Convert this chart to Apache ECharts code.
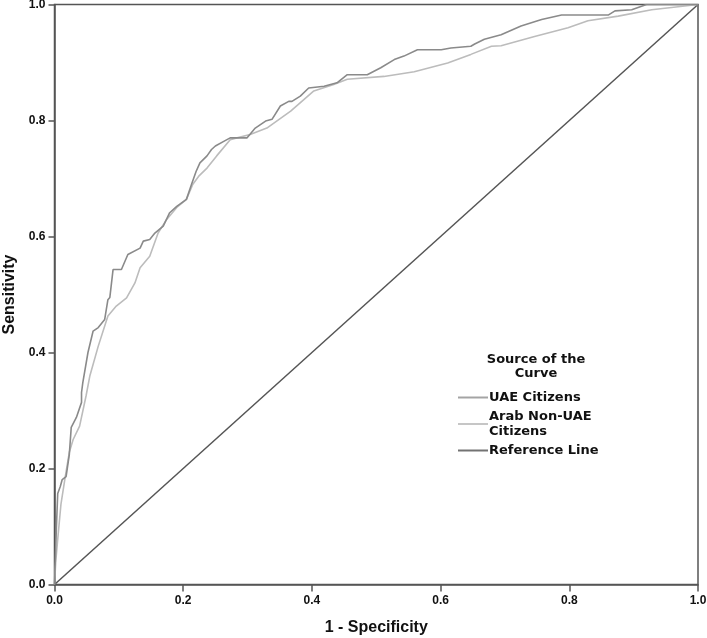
<!DOCTYPE html>
<html>
<head>
<meta charset="utf-8">
<script src="https://cdn.jsdelivr.net/npm/echarts@6/dist/echarts.min.js"></script>
<style>html,body{margin:0;padding:0;background:#fff}#c{width:707px;height:638px}</style>
</head>
<body>
<div id="c"></div>
<script>
var tickLabels = ['0.0','0.2','0.4','0.6','0.8','1.0'];
var seriesNames = ['UAE Citizens', 'Arab Non-UAE\nCitizens', 'Reference Line'];
var uaeCitizens = [[0,0],[0.003,0.10],[0.005,0.157],[0.009,0.169],[0.012,0.181],[0.018,0.186],[0.023,0.224],[0.026,0.271],[0.034,0.288],[0.042,0.314],[0.042,0.331],[0.044,0.348],[0.052,0.40],[0.060,0.437],[0.068,0.443],[0.078,0.457],[0.083,0.491],[0.086,0.495],[0.091,0.543],[0.104,0.543],[0.114,0.569],[0.133,0.580],[0.138,0.592],[0.148,0.595],[0.156,0.606],[0.169,0.618],[0.179,0.641],[0.190,0.652],[0.205,0.664],[0.213,0.69],[0.220,0.712],[0.226,0.727],[0.237,0.739],[0.244,0.75],[0.250,0.756],[0.263,0.764],[0.273,0.770],[0.299,0.770],[0.312,0.787],[0.328,0.799],[0.338,0.802],[0.351,0.825],[0.364,0.833],[0.369,0.833],[0.382,0.842],[0.395,0.856],[0.419,0.859],[0.439,0.865],[0.455,0.879],[0.486,0.879],[0.507,0.891],[0.528,0.905],[0.543,0.911],[0.564,0.922],[0.601,0.922],[0.616,0.925],[0.647,0.928],[0.653,0.932],[0.668,0.940],[0.694,0.948],[0.725,0.963],[0.757,0.974],[0.788,0.982],[0.861,0.982],[0.871,0.989],[0.897,0.991],[0.92,1.0],[1,1]];
var arabNonUae = [[0,0],[0.002,0.04],[0.005,0.078],[0.010,0.138],[0.016,0.181],[0.023,0.228],[0.029,0.25],[0.039,0.273],[0.049,0.325],[0.055,0.36],[0.068,0.411],[0.083,0.463],[0.096,0.480],[0.112,0.494],[0.125,0.520],[0.133,0.546],[0.148,0.566],[0.161,0.606],[0.174,0.629],[0.190,0.65],[0.205,0.664],[0.215,0.69],[0.225,0.705],[0.237,0.718],[0.252,0.739],[0.273,0.767],[0.304,0.776],[0.330,0.787],[0.367,0.816],[0.403,0.851],[0.434,0.862],[0.455,0.871],[0.512,0.876],[0.559,0.884],[0.611,0.899],[0.647,0.914],[0.679,0.928],[0.694,0.929],[0.746,0.945],[0.798,0.96],[0.829,0.972],[0.876,0.980],[0.928,0.991],[1,1]];
var referenceLine = [[0,0],[1,1]];

var FONT = '"Liberation Sans", Arial, sans-serif';
var LFONT = '"DejaVu Sans", sans-serif';
var axisColor = '#555';
var chart = echarts.init(document.getElementById('c'));
function axisCommon(name, gap, rot, tickLen, margin) {
  return {
    type: 'value', min: 0, max: 1, interval: 0.2,
    name: name, nameLocation: 'middle', nameGap: gap, nameRotate: rot,
    nameTextStyle: {fontFamily: FONT, fontWeight: 'bold', fontSize: 16, color: '#111'},
    axisLine: {show: true, onZero: false, lineStyle: {color: axisColor, width: 1.5}},
    axisTick: {show: true, length: tickLen, lineStyle: {color: axisColor, width: 1.5}},
    axisLabel: {fontFamily: FONT, fontWeight: 'bold', fontSize: 12, color: '#111', margin: margin,
      formatter: function (v) { return tickLabels[Math.round(v / 0.2)]; }},
    splitLine: {show: false}
  };
}
chart.setOption({
  animation: false,
  backgroundColor: '#fff',
  title: {
    text: 'Source of the\nCurve', left: 531, top: 348, textAlign: 'center',
    textStyle: {fontFamily: LFONT, fontWeight: 'bold', fontSize: 13, lineHeight: 14, color: '#111', align: 'center'}
  },
  legend: {
    orient: 'vertical', left: 453, top: 385, itemWidth: 30, itemHeight: 2, itemGap: 4,
    icon: 'rect',
    textStyle: {fontFamily: LFONT, fontWeight: 'bold', fontSize: 13, lineHeight: 15, color: '#111', padding: [0,0,0,-4]},
    data: seriesNames
  },
  grid: {left: 54.5, top: 4.5, right: 9, bottom: 53.5, show: true, borderColor: axisColor, borderWidth: 1.5,
    containLabel: false, outerBoundsMode: 'none'},
  xAxis: axisCommon('1 - Specificity', 35, 0, 7, 10),
  yAxis: axisCommon('Sensitivity', 34, 90, 6, 9),
  series: [
    {name: seriesNames[0], type: 'line', data: uaeCitizens, showSymbol: false, symbol: 'none',
      lineStyle: {color: '#8a8a8a', width: 1.6}, itemStyle: {color: '#a4a4a4'}, z: 3},
    {name: seriesNames[1], type: 'line', data: arabNonUae, showSymbol: false, symbol: 'none',
      lineStyle: {color: '#bcbcbc', width: 1.6}, itemStyle: {color: '#c6c6c6'}, z: 2},
    {name: seriesNames[2], type: 'line', data: referenceLine, showSymbol: false, symbol: 'none',
      lineStyle: {color: '#555', width: 1.5}, itemStyle: {color: '#737373'}, z: 1}
  ]
});
</script>
</body>
</html>
